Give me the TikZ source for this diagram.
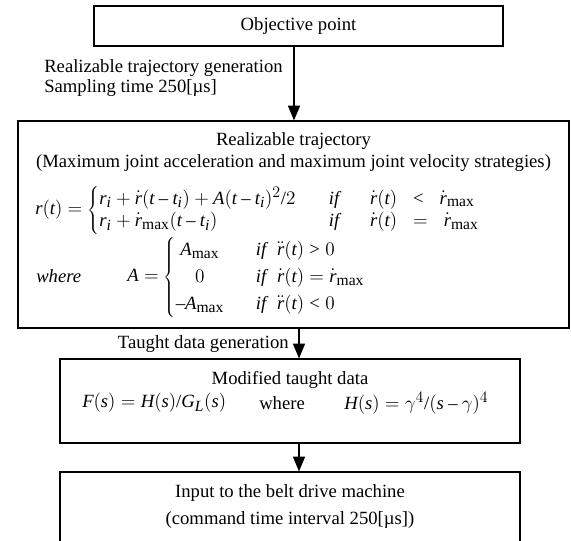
\documentclass[tikz,border=0pt]{standalone}
\usepackage{fontspec}
\setmainfont{Liberation Serif}
\usepackage[italic]{mathastext}
\usetikzlibrary{arrows.meta,fit}
\tikzset{
  box/.style={draw, line width=0.9pt, inner sep=0pt},
  arr/.style={-{Triangle[length=11pt,width=9pt]}, line width=0.9pt},
  txt/.style={inner sep=0pt},
}
\begin{document}
\begin{tikzpicture}[x=0.75pt,y=-0.75pt,font=\fontsize{14}{16.8}\selectfont]
\useasboundingbox (0,0) rectangle (571,540);
% boxes
\node[box, fit={(94,6) (503,46)}] (b1) {};
\node[box, fit={(18,121) (569,328)}] (b2) {};
\node[box, fit={(60,359) (520,443)}] (b3) {};
\node[box, fit={(60,472) (520,548)}] (b4) {};
% arrow x positions
\coordinate (x1) at (294,0);
\coordinate (x2) at (299,0);
\coordinate (x3) at (299,0);
\draw[arr] (b1.south -| x1) -- (b2.north -| x1);
\draw[arr] (b2.south -| x2) -- (b3.north -| x2);
\draw[arr] (b3.south -| x3) -- (b4.north -| x3);
% box 1
\node[txt] (t1) at (298.5,26) {Objective point};
% arrow 1 label
\node[txt, anchor=west] (l1a) at (44,68) {Realizable trajectory generation};
\node[txt, anchor=west] (l1b) at (44,88) {Sampling time 250[µs]};
% box 2
\node[txt] (t2a) at (293.5,141) {Realizable trajectory};
\node[txt] (t2b) at (293.5,163) {(Maximum joint acceleration and maximum joint velocity strategies)};
\node[txt, anchor=west] (eq1) at (35,210) {$r(t)=\left\{\begin{array}{@{}l@{}}
\makebox[172pt][l]{$r_i+\dot r(t-t_i)+A(t-t_i)^2/2$}\makebox[31pt][l]{$\mathit{if}$}\dot r(t)\;\;<\;\;\dot r_{\mathrm{max}}\\
\makebox[172pt][l]{$r_i+\dot r_{\mathrm{max}}(t-t_i)$}\makebox[31pt][l]{$\mathit{if}$}\dot r(t)\;\;=\;\;\dot r_{\mathrm{max}}
\end{array}\right.$};
\node[txt, anchor=west] (wh) at (36,276) {\textit{where}};
\node[txt, anchor=west] (eq2) at (127,277) {\renewcommand{\arraystretch}{1.2}$A=\left\{\begin{array}{@{}c@{\hspace{24pt}}l@{}}
A_{\mathrm{max}} & \mathit{if}\;\;\ddot r(t)>0\\
0 & \mathit{if}\;\;\dot r(t)=\dot r_{\mathrm{max}}\\
-A_{\mathrm{max}} & \mathit{if}\;\;\ddot r(t)<0
\end{array}\right.$};
% arrow 2 label
\node[txt, anchor=east] (l2) at (289,344) {Taught data generation};
% box 3
\node[txt] (t3a) at (290,380) {Modified taught data};
\node[txt, anchor=west] (eq3) at (82,403) {$F(s)=H(s)/G_L(s)$};
\node[txt, anchor=west] (wh3) at (259,403) {where};
\node[txt, anchor=west] (eq4) at (344,403) {$H(s)=\gamma^4/(s-\gamma)^4$};
% box 4
\node[txt] (t4a) at (290,493) {Input to the belt drive machine};
\node[txt] (t4b) at (290,520) {(command time interval 250[µs])};
\end{tikzpicture}
\end{document}
